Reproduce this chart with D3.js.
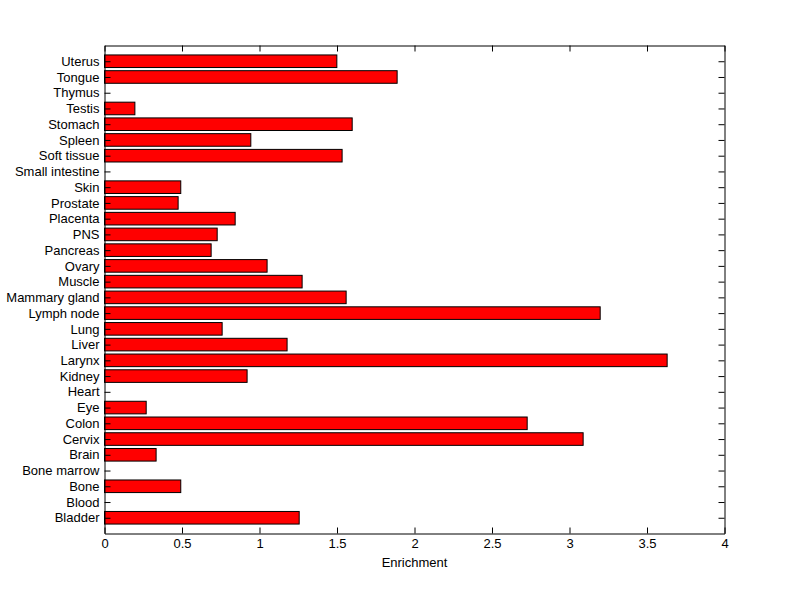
<!DOCTYPE html>
<html><head><meta charset="utf-8">
<script src="https://cdn.jsdelivr.net/npm/d3@7"></script>
<style>body{margin:0;background:#fff}svg{display:block}text{font-family:"Liberation Sans",Arial,sans-serif}</style>
</head><body>
<script>
const categories = ["Bladder","Blood","Bone","Bone marrow","Brain","Cervix","Colon","Eye","Heart","Kidney","Larynx","Liver","Lung","Lymph node","Mammary gland","Muscle","Ovary","Pancreas","PNS","Placenta","Prostate","Skin","Small intestine","Soft tissue","Spleen","Stomach","Testis","Thymus","Tongue","Uterus"];
const values = [1.256,0,0.492,0,0.333,3.088,2.727,0.269,0,0.92,3.63,1.178,0.759,3.198,1.559,1.275,1.049,0.688,0.727,0.843,0.475,0.492,0,1.533,0.944,1.598,0.196,0,1.888,1.499];
const xTicks = [0,0.5,1,1.5,2,2.5,3,3.5,4];
const xLabel = "Enrichment";

const W=800,H=599;
const L=104.5,R=724.5,T=45.5,B=533.5;
const svg=d3.select("body").append("svg").attr("width",W).attr("height",H);
const x=d3.scaleLinear().domain([0,4]).range([L,R]);
const y=d3.scaleLinear().domain([0,categories.length+1]).range([B,T]);
const bh=(y(0)-y(0.8));

svg.append("g").selectAll("rect").data(values).join("rect")
  .attr("x",x(0)).attr("y",(d,i)=>y(i+1)-bh/2)
  .attr("width",d=>x(d)-x(0)).attr("height",bh)
  .attr("fill",d=>d>0?"#ff0000":"none").attr("stroke",d=>d>0?"#000":"none").attr("stroke-width",1);

const tl=6;
const idx=d3.range(1,categories.length+1);
const axL=d3.axisLeft(y).tickValues(idx).tickSizeInner(-tl).tickSizeOuter(0).tickPadding(5).tickFormat(d=>categories[d-1]);
const axR=d3.axisRight(y).tickValues(idx).tickSizeInner(-tl).tickSizeOuter(0).tickFormat("");
const axB=d3.axisBottom(x).tickValues(xTicks).tickSizeInner(-tl).tickSizeOuter(0).tickPadding(5).tickFormat(d3.format("~g"));
const axT=d3.axisTop(x).tickValues(xTicks).tickSizeInner(-tl).tickSizeOuter(0).tickFormat("");
function style(g){g.select(".domain").attr("stroke","#000");g.selectAll(".tick line").attr("stroke","#000");g.selectAll("text").attr("fill","#000").attr("font-size","13px").attr("font-family","Liberation Sans, Arial, sans-serif");}
svg.append("g").attr("transform",`translate(${L},0)`).call(axL).call(style);
svg.append("g").attr("transform",`translate(${R},0)`).call(axR).call(style);
svg.append("g").attr("transform",`translate(0,${B})`).call(axB).call(style);
svg.append("g").attr("transform",`translate(0,${T})`).call(axT).call(style);
svg.append("text").attr("x",(L+R)/2).attr("y",567).attr("text-anchor","middle").attr("font-size","13px").attr("fill","#000").text(xLabel);
</script>
</body></html>
